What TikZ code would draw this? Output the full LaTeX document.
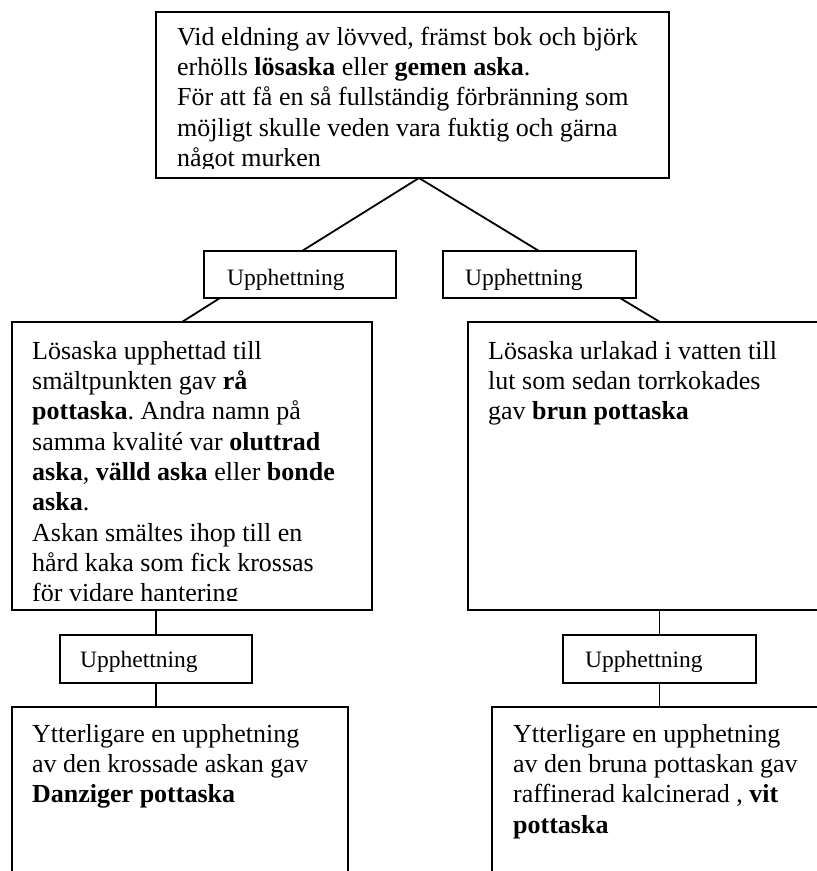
\documentclass[tikz,border=0pt]{standalone}
\usepackage{fontspec}
\setmainfont{Liberation Serif}
\frenchspacing
\begin{document}
\begin{tikzpicture}[x=1pt,y=-1pt,
  box/.style={draw, line width=1.8pt, inner sep=0pt, outer sep=0pt, anchor=north west},
  txt/.style={anchor=north west, inner sep=0pt, align=left, font=\fontsize{26}{30.3}\selectfont},
  heattxt/.style={anchor=base west, inner sep=0pt, font=\fontsize{23.5}{28}\selectfont},
  conn/.style={line width=1.8pt}]
\useasboundingbox (0,0) rectangle (817,871);
\clip (0,0) rectangle (817,871);
\fill[white] (0,0) rectangle (817,871);

% boxes
\node[box, minimum width=513pt, minimum height=166pt] (top) at (156,12) {};
\node[box, minimum width=360pt, minimum height=288pt] (lm) at (12,322) {};
\node[box, minimum width=400pt, minimum height=288pt] (rm) at (468,322) {};
\node[box, minimum width=192pt, minimum height=47pt] (hL1) at (204,251) {};
\node[box, minimum width=193pt, minimum height=47pt] (hR1) at (443,251) {};
\node[box, minimum width=192pt, minimum height=48pt] (hL2) at (60,635) {};
\node[box, minimum width=193pt, minimum height=48pt] (hR2) at (563,635) {};
\node[box, minimum width=336pt, minimum height=220pt] (ll) at (12,707) {};
\node[box, minimum width=400pt, minimum height=220pt] (lr) at (492,707) {};

% heating labels
\node[heattxt] (tL1) at ([shift={(23,34)}]hL1.north west) {Upphettning};
\node[heattxt] (tR1) at ([shift={(22,34)}]hR1.north west) {Upphettning};
\node[heattxt] (tL2) at ([shift={(20,32)}]hL2.north west) {Upphettning};
\node[heattxt] (tR2) at ([shift={(22,32)}]hR2.north west) {Upphettning};

% texts
\begin{scope}
\clip (top.north west) rectangle ([shift={(0,-10)}]top.south east);
\node[txt] (ttop) at ([shift={(21,11.8)}]top.north west) {\strut Vid eldning av lövved, främst bok och björk\\
erhölls \textbf{lösaska} eller \textbf{gemen aska}.\\
För att få en så fullständig förbränning som\\
möjligt skulle veden vara fuktig och gärna\\
något murken};
\end{scope}

\begin{scope}
\clip (lm.north west) rectangle ([shift={(0,-10)}]lm.south east);
\node[txt] (tlm) at ([shift={(20,15.8)}]lm.north west) {\strut Lösaska upphettad till\\
smältpunkten gav \textbf{rå}\\
\textbf{pottaska}. Andra namn på\\
samma kvalité var \textbf{oluttrad}\\
\textbf{aska}, \textbf{välld aska} eller \textbf{bonde}\\
\textbf{aska}.\\
Askan smältes ihop till en\\
hård kaka som fick krossas\\
för vidare hantering};
\end{scope}

\node[txt] (trm) at ([shift={(20,15.8)}]rm.north west) {\strut Lösaska urlakad i vatten till\\
lut som sedan torrkokades\\
gav \textbf{brun pottaska}};

\node[txt] (tll) at ([shift={(20,13.8)}]ll.north west) {\strut Ytterligare en upphetning\\
av den krossade askan gav\\
\textbf{Danziger pottaska}};

\node[txt] (tlr) at ([shift={(21,13.8)}]lr.north west) {\strut Ytterligare en upphetning\\
av den bruna pottaskan gav\\
raffinerad kalcinerad , \textbf{vit}\\
\textbf{pottaska}};

% connectors
\draw[conn] ([shift={(263,0)}]top.south west) -- ([shift={(98,0)}]hL1.north west);
\draw[conn] ([shift={(263,0)}]top.south west) -- ([shift={(96,0)}]hR1.north west);
\draw[conn] ([shift={(16,0)}]hL1.south west) -- ([shift={(170,0)}]lm.north west);
\draw[conn] ([shift={(177,0)}]hR1.south west) -- ([shift={(192,0)}]rm.north west);
\draw[conn] (hL2.north |- lm.south) -- (hL2.north);
\draw[conn] (hR2.north |- rm.south) -- (hR2.north);
\draw[conn] (hL2.south) -- (hL2.south |- ll.north);
\draw[conn] (hR2.south) -- (hR2.south |- lr.north);
\end{tikzpicture}
\end{document}
